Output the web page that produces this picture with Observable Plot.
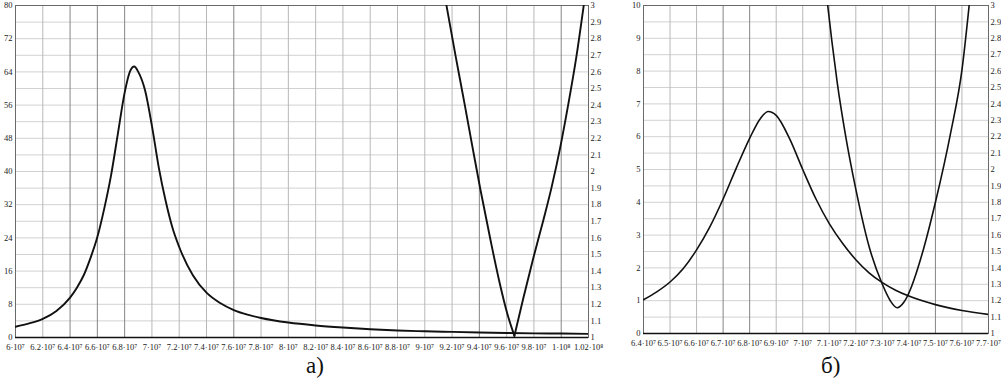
<!DOCTYPE html>
<html><head><meta charset="utf-8">
<script src="https://cdn.jsdelivr.net/npm/d3@7"></script>
<script src="https://cdn.jsdelivr.net/npm/@observablehq/plot@0.6"></script>
<style>
html,body{margin:0;padding:0;background:#fff;}
#root{position:relative;width:1001px;height:379px;overflow:hidden;background:#fff;}
.layer{position:absolute;top:0;}
.cap{position:absolute;font-family:"Liberation Serif","DejaVu Serif",serif;font-size:23px;line-height:1;color:#111;}
</style></head><body><div id="root"></div>
<script>
// ---------- Panel а) ----------
const aFreq1 = [6.0e7,6.1e7,6.2e7,6.3e7,6.4e7,6.45e7,6.5e7,6.55e7,6.6e7,6.65e7,6.7e7,6.75e7,6.8e7,6.84e7,6.87e7,6.9e7,6.95e7,7.0e7,7.05e7,7.1e7,7.15e7,7.2e7,7.3e7,7.4e7,7.5e7,7.6e7,7.7e7,7.8e7,8.0e7,8.2e7,8.4e7,8.6e7,8.8e7,9.0e7,9.2e7,9.4e7,9.6e7,9.8e7,1.0e8,1.02e8];
const aVal1  = [2.6,3.4,4.5,6.4,9.6,12.0,15.0,19.2,24.2,31.0,39.0,49.0,59.0,64.2,65.3,64.0,59.5,51.0,41.0,33.0,26.5,21.8,15.0,10.8,8.3,6.6,5.5,4.7,3.6,2.9,2.4,2.0,1.7,1.5,1.35,1.2,1.1,1.0,0.95,0.88];
const aFreq2L = [9.159e7,9.225e7,9.291e7,9.349e7,9.408e7,9.481e7,9.554e7,9.606e7,9.657e7];
const aVal2L  = [3.0,2.70,2.41,2.15,1.89,1.59,1.31,1.14,1.01];
const aFreq2R = [9.657e7,9.723e7,9.796e7,9.870e7,9.928e7,9.994e7,1.0053e8,1.0111e8,1.0165e8];
const aVal2R  = [1.01,1.24,1.48,1.71,1.90,2.15,2.41,2.69,3.0];
const aXTicks = [6.0e7,6.2e7,6.4e7,6.6e7,6.8e7,7.0e7,7.2e7,7.4e7,7.6e7,7.8e7,8.0e7,8.2e7,8.4e7,8.6e7,8.8e7,9.0e7,9.2e7,9.4e7,9.6e7,9.8e7,1.0e8,1.02e8];
const aXLabels = ["6·10⁷","6.2·10⁷","6.4·10⁷","6.6·10⁷","6.8·10⁷","7·10⁷","7.2·10⁷","7.4·10⁷","7.6·10⁷","7.8·10⁷","8·10⁷","8.2·10⁷","8.4·10⁷","8.6·10⁷","8.8·10⁷","9·10⁷","9.2·10⁷","9.4·10⁷","9.6·10⁷","9.8·10⁷","1·10⁸","1.02·10⁸"];
const aXDark = [6.4e7,6.6e7,6.8e7,7.6e7,9.4e7,1.0e8];
const aYTicks = [0,8,16,24,32,40,48,56,64,72,80];
const aYGrid = [0,4,8,12,16,20,24,28,32,36,40,44,48,52,56,60,64,68,72,76,80];

// ---------- Panel б) ----------
const bFreq1 = [6.4e7,6.45e7,6.5e7,6.55e7,6.6e7,6.65e7,6.7e7,6.75e7,6.8e7,6.84e7,6.87e7,6.9e7,6.95e7,7.0e7,7.05e7,7.1e7,7.15e7,7.2e7,7.25e7,7.3e7,7.35e7,7.4e7,7.5e7,7.6e7,7.7e7];
const bVal1  = [1.03,1.27,1.57,1.98,2.55,3.25,4.1,5.05,5.95,6.55,6.77,6.65,5.95,5.0,4.1,3.35,2.75,2.25,1.85,1.55,1.32,1.14,0.88,0.70,0.58];
const bFreq2 = [7.092e7,7.11e7,7.13e7,7.16e7,7.20e7,7.25e7,7.30e7,7.33e7,7.356e7,7.381e7,7.406e7,7.43e7,7.456e7,7.50e7,7.557e7,7.601e7,7.629e7];
const bVal2  = [3.03,2.78,2.53,2.22,1.88,1.53,1.30,1.20,1.157,1.19,1.27,1.38,1.52,1.80,2.22,2.62,3.03];
const bXTicks = [6.4e7,6.5e7,6.6e7,6.7e7,6.8e7,6.9e7,7.0e7,7.1e7,7.2e7,7.3e7,7.4e7,7.5e7,7.6e7,7.7e7];
const bXLabels = ["6.4·10⁷","6.5·10⁷","6.6·10⁷","6.7·10⁷","6.8·10⁷","6.9·10⁷","7·10⁷","7.1·10⁷","7.2·10⁷","7.3·10⁷","7.4·10⁷","7.5·10⁷","7.6·10⁷","7.7·10⁷"];
const bXDark = [6.7e7,6.8e7,7.5e7];
const bYTicks = [0,1,2,3,4,5,6,7,8,9,10];
const bYGrid = [0,0.5,1,1.5,2,2.5,3,3.5,4,4.5,5,5.5,6,6.5,7,7.5,8,8.5,9,9.5,10];

// right axes (shared scale 1..3)
const rTicks = [1,1.1,1.2,1.3,1.4,1.5,1.6,1.7,1.8,1.9,2,2.1,2.2,2.3,2.4,2.5,2.6,2.7,2.8,2.9,3];
const rLabels = ["1","1.1","1.2","1.3","1.4","1.5","1.6","1.7","1.8","1.9","2","2.1","2.2","2.3","2.4","2.5","2.6","2.7","2.8","2.9","3"];

const root = document.getElementById("root");
const font = "Liberation Serif, DejaVu Serif, serif";

function panel(cfg) {
  const xLab = new Map(cfg.xTicks.map((d, i) => [d, cfg.xLabels[i]]));
  const rLab = new Map(rTicks.map((d, i) => [d, rLabels[i]]));
  const xDom = [cfg.xTicks[0], cfg.xTicks[cfg.xTicks.length - 1]];
  const common = {
    width: cfg.width, height: cfg.height,
    marginLeft: cfg.mL, marginRight: cfg.mR, marginTop: cfg.mT, marginBottom: cfg.mB,
  };
  const style = {fontFamily: font, fontSize: "8.5px", background: "transparent", color: "#1a1a1a"};
  const light = cfg.xTicks.filter(d => !cfg.xDark.includes(d));
  const base = Plot.plot({
    ...common, style,
    x: {domain: xDom, ticks: cfg.xTicks, tickFormat: d => xLab.get(d), tickSize: 0, tickPadding: cfg.xPad, label: null},
    y: {domain: cfg.yDomain, ticks: cfg.yTicks, tickSize: 0, tickPadding: 3, label: null},
    marks: [
      Plot.ruleY(cfg.yGrid, {stroke: "#d2d2d2", strokeWidth: 1}),
      Plot.ruleX(light, {stroke: "#b8b8b8", strokeWidth: 1}),
      Plot.ruleX(cfg.xDark, {stroke: "#858585", strokeWidth: 1}),
      Plot.frame({stroke: "#6a6a6a", strokeWidth: 1}),
      Plot.ruleY([cfg.yDomain[0]], {stroke: "#111", strokeWidth: 1.5}),
      Plot.line(cfg.freq1.map((f, i) => ({f, v: cfg.val1[i]})), {x: "f", y: "v", curve: "monotone-x", stroke: "#111", strokeWidth: cfg.sw, clip: true})
    ]
  });
  const over = Plot.plot({
    ...common, style,
    x: {domain: xDom, axis: null},
    y: {domain: [1, 3], axis: "right", ticks: rTicks, tickFormat: d => rLab.get(d), tickSize: 0, tickPadding: 2, label: null},
    marks: [
      Plot.line(cfg.series2, {x: "f", y: "v", z: "b", curve: "monotone-x", stroke: "#111", strokeWidth: cfg.sw, clip: true})
    ]
  });
  for (const svg of [base, over]) {
    svg.classList.add("layer");
    svg.style.left = cfg.left + "px";
    root.appendChild(svg);
  }
}

const aSeries2 = [
  ...aFreq2L.map((f, i) => ({f, v: aVal2L[i], b: "L"})),
  ...aFreq2R.map((f, i) => ({f, v: aVal2R[i], b: "R"}))
];
const bSeries2 = bFreq2.map((f, i) => ({f, v: bVal2[i], b: "U"}));

panel({left: 0, width: 604, height: 367, mL: 15, mR: 16, mT: 5, mB: 30,
  xTicks: aXTicks, xLabels: aXLabels, xDark: aXDark, xPad: 6,
  yDomain: [0, 80], yTicks: aYTicks, yGrid: aYGrid,
  freq1: aFreq1, val1: aVal1, series2: aSeries2, sw: 1.9});

panel({left: 628, width: 373, height: 363, mL: 15, mR: 13, mT: 5, mB: 30,
  xTicks: bXTicks, xLabels: bXLabels, xDark: bXDark, xPad: 6,
  yDomain: [0, 10], yTicks: bYTicks, yGrid: bYGrid,
  freq1: bFreq1, val1: bVal1, series2: bSeries2, sw: 1.6});

const capA = document.createElement("div");
capA.className = "cap"; capA.textContent = "а)";
capA.style.left = "306px"; capA.style.top = "354px";
root.appendChild(capA);
const capB = document.createElement("div");
capB.className = "cap"; capB.textContent = "б)";
capB.style.left = "821px"; capB.style.top = "354px";
root.appendChild(capB);
</script>
</body></html>
